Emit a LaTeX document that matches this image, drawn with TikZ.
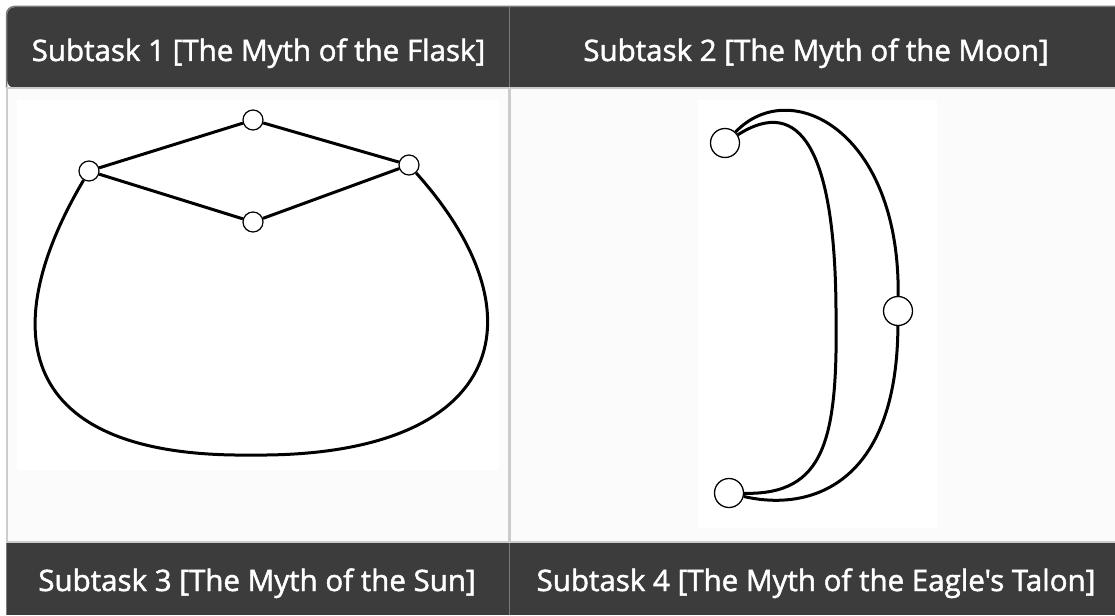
\documentclass[tikz,border=0pt]{standalone}
\usepackage{fontspec}
\newfontfamily\hdrfont[FakeBold=1.6]{Open Sans}
\definecolor{hdrbg}{HTML}{3C3C3C}
\definecolor{hdrline}{HTML}{7A7A7A}
\definecolor{cellline}{HTML}{CCCCCC}
\definecolor{cellbg}{HTML}{FBFBFB}
\begin{document}
\begin{tikzpicture}[x=1pt,y=-1pt,
  hdr/.style={text=white,font=\hdrfont\fontsize{29.5}{34}\selectfont,anchor=base,inner sep=0pt},
  vtx/.style={circle,draw=black,line width=1.2pt,fill=white,inner sep=0pt,minimum size=20pt},
  bigvtx/.style={circle,draw=black,line width=1.3pt,fill=white,inner sep=0pt,minimum size=29pt},
  edge/.style={draw=black,line width=3pt},
  panel/.style={fill=white,draw=none}]
\useasboundingbox (0,0) rectangle (1115,615);
\fill[white] (0,0) rectangle (1115,615);
% body
\fill[cellbg] (7,89) rectangle (1115,542);
% headers
\fill[hdrbg,rounded corners=8pt] (7,7) -- (1130,7) -- (1130,88) -- (7,88) -- cycle;
\fill[hdrbg] (7,542) rectangle (1115,615);
\draw[hdrline,line width=1.5pt,rounded corners=8pt] (6.5,88) -- (6.5,6.5) -- (1130,6.5);
\draw[hdrline,line width=1.5pt] (6.5,542) -- (6.5,615);
\draw[hdrline,line width=1.5pt] (509.5,7) -- (509.5,88);
\draw[hdrline,line width=1.5pt] (509.5,542) -- (509.5,615);
% cell lines
\draw[cellline,line width=2pt] (6.5,88) -- (6.5,542);
\draw[cellline,line width=3pt] (509.5,88) -- (509.5,542);
\draw[cellline,line width=2pt] (6,88.5) -- (1115,88.5);
\draw[cellline,line width=2pt] (6,541.5) -- (1115,541.5);
% header texts
\node[hdr] (h1) at (258.5,61) {Subtask 1 [The Myth of the Flask]};
\node[hdr] (h2) at (816,61) {Subtask 2 [The Myth of the Moon]};
\node[hdr] (h3) at (257,591) {Subtask 3 [The Myth of the Sun]};
\node[hdr] (h4) at (816,591) {Subtask 4 [The Myth of the Eagle's Talon]};
% panels
\fill[panel] (17,100) rectangle (499,470);
\fill[panel] (698,100) rectangle (937,528);
% flask graph
\node[vtx] (ft) at (253,120) {};
\node[vtx] (fl) at (89,171) {};
\node[vtx] (fr) at (409,165) {};
\node[vtx] (fb) at (253,222) {};
\coordinate (fbot) at (251,455);
\draw[edge] (fl) -- (ft);
\draw[edge] (ft) -- (fr);
\draw[edge] (fl) -- (fb);
\draw[edge] (fb) -- (fr);
\draw[edge] (fl) .. controls (-5,330) and (15,458) .. (fbot)
  .. controls (500,458) and (548,320) .. (fr);
% moon graph
\node[bigvtx] (mt) at (725,143) {};
\node[bigvtx] (mm) at (898,311) {};
\node[bigvtx] (mb) at (729,493) {};
\coordinate (minner) at (836,310);
\draw[edge] (mt) .. controls (800,95) and (835,150) .. (minner)
  .. controls (838,440) and (825,495) .. (mb);
\draw[edge] (mt) .. controls (790,75) and (900,130) .. (mm);
\draw[edge] (mm) .. controls (897,485) and (810,512) .. (mb);
\end{tikzpicture}
\end{document}
